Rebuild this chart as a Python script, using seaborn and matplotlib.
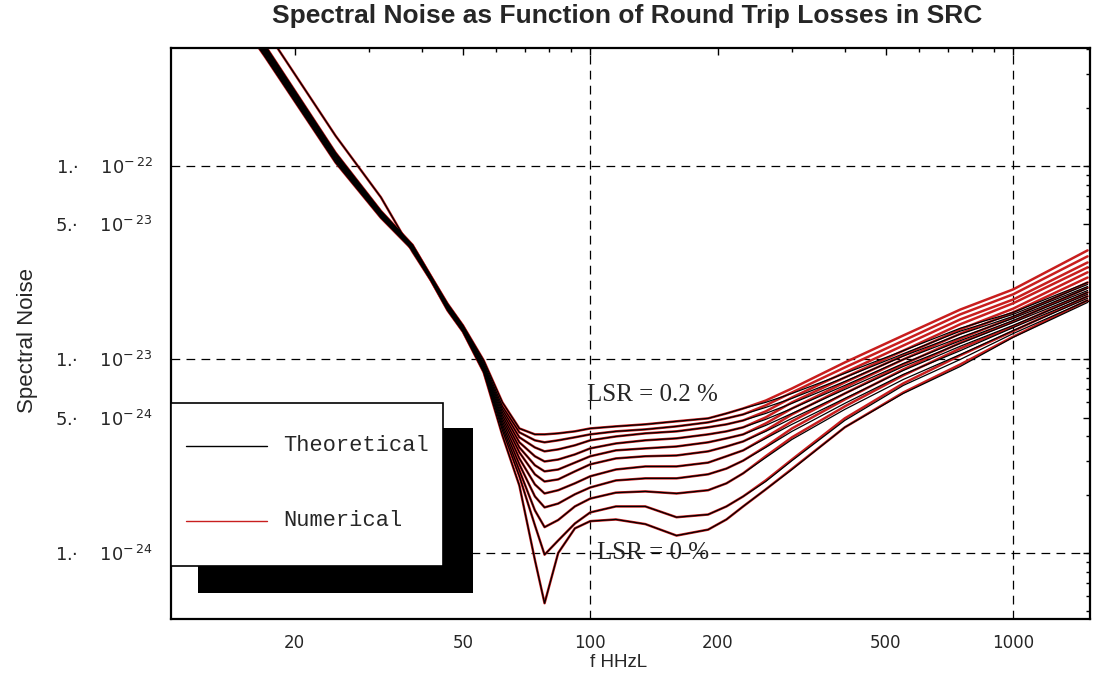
"""
Spectral noise vs frequency for several round-trip losses in the SRC.
"""
import matplotlib
matplotlib.use("Agg")
import matplotlib.pyplot as plt
import seaborn as sns
import pandas as pd
import numpy as np
from matplotlib.patches import Rectangle
from matplotlib.lines import Line2D
from matplotlib.ticker import LogLocator, NullFormatter

# LSR values (percent), one curve per value, bottom (0 %) to top (0.2 %)
lsr_percent = [0.00, 0.02, 0.04, 0.06, 0.08, 0.10, 0.12, 0.14, 0.16, 0.18, 0.20]

freq_hz = [10, 17, 25, 32, 38, 42, 46, 50, 56, 62, 68, 74, 78, 84, 92, 100, 115, 135,
           160, 190, 210, 230, 260, 300, 400, 550, 750, 1000, 1500]

# theoretical spectral noise, one row per LSR value (same order as lsr_percent)
theory_noise = [
    [2.48e-21, 5.11e-22, 1.43e-22, 6.88e-23, 3.60e-23, 2.56e-23, 1.79e-23, 1.39e-23, 8.57e-24, 4.05e-24,
     2.23e-24, 9.2e-25, 5.5e-25, 1.00e-24, 1.34e-24, 1.46e-24, 1.49e-24, 1.41e-24, 1.23e-24, 1.32e-24,
     1.49e-24, 1.74e-24, 2.13e-24, 2.70e-24, 4.46e-24, 6.67e-24, 9.20e-24, 1.30e-23, 1.97e-23],
    [1.93e-21, 3.68e-22, 1.04e-22, 5.39e-23, 3.68e-23, 2.57e-23, 1.81e-23, 1.40e-23, 8.67e-24, 4.30e-24,
     2.49e-24, 1.39e-24, 9.8e-25, 1.16e-24, 1.42e-24, 1.62e-24, 1.74e-24, 1.74e-24, 1.53e-24, 1.58e-24,
     1.74e-24, 1.96e-24, 2.34e-24, 3.00e-24, 4.84e-24, 7.34e-24, 1.00e-23, 1.36e-23, 2.02e-23],
    [1.97e-21, 3.74e-22, 1.06e-22, 5.45e-23, 3.73e-23, 2.58e-23, 1.82e-23, 1.41e-23, 8.77e-24, 4.46e-24,
     2.67e-24, 1.66e-24, 1.36e-24, 1.48e-24, 1.74e-24, 1.91e-24, 2.05e-24, 2.08e-24, 2.03e-24, 2.11e-24,
     2.29e-24, 2.58e-24, 3.11e-24, 3.86e-24, 5.52e-24, 7.88e-24, 1.06e-23, 1.41e-23, 2.07e-23],
    [2.00e-21, 3.80e-22, 1.07e-22, 5.50e-23, 3.75e-23, 2.60e-23, 1.83e-23, 1.42e-23, 8.88e-24, 4.62e-24,
     2.87e-24, 1.96e-24, 1.72e-24, 1.80e-24, 2.01e-24, 2.18e-24, 2.37e-24, 2.43e-24, 2.43e-24, 2.55e-24,
     2.73e-24, 3.00e-24, 3.51e-24, 4.25e-24, 5.93e-24, 8.37e-24, 1.11e-23, 1.46e-23, 2.12e-23],
    [2.04e-21, 3.86e-22, 1.08e-22, 5.55e-23, 3.77e-23, 2.61e-23, 1.85e-23, 1.43e-23, 8.98e-24, 4.79e-24,
     3.08e-24, 2.26e-24, 2.03e-24, 2.11e-24, 2.29e-24, 2.49e-24, 2.70e-24, 2.80e-24, 2.80e-24, 2.93e-24,
     3.16e-24, 3.39e-24, 3.91e-24, 4.62e-24, 6.29e-24, 8.77e-24, 1.17e-23, 1.50e-23, 2.17e-23],
    [2.07e-21, 3.92e-22, 1.10e-22, 5.60e-23, 3.79e-23, 2.63e-23, 1.86e-23, 1.44e-23, 9.09e-24, 4.96e-24,
     3.31e-24, 2.55e-24, 2.34e-24, 2.40e-24, 2.64e-24, 2.87e-24, 3.08e-24, 3.16e-24, 3.19e-24, 3.35e-24,
     3.55e-24, 3.77e-24, 4.25e-24, 4.96e-24, 6.67e-24, 9.20e-24, 1.21e-23, 1.55e-23, 2.22e-23],
    [2.11e-21, 3.98e-22, 1.11e-22, 5.65e-23, 3.82e-23, 2.64e-23, 1.87e-23, 1.45e-23, 9.20e-24, 5.14e-24,
     3.51e-24, 2.84e-24, 2.64e-24, 2.70e-24, 2.93e-24, 3.16e-24, 3.39e-24, 3.47e-24, 3.55e-24, 3.73e-24,
     3.91e-24, 4.10e-24, 4.56e-24, 5.26e-24, 7.00e-24, 9.53e-24, 1.25e-23, 1.59e-23, 2.27e-23],
    [2.14e-21, 4.04e-22, 1.12e-22, 5.70e-23, 3.84e-23, 2.66e-23, 1.89e-23, 1.46e-23, 9.31e-24, 5.33e-24,
     3.73e-24, 3.16e-24, 2.97e-24, 3.04e-24, 3.23e-24, 3.47e-24, 3.68e-24, 3.82e-24, 3.91e-24, 4.10e-24,
     4.25e-24, 4.46e-24, 4.90e-24, 5.58e-24, 7.34e-24, 1.00e-23, 1.30e-23, 1.63e-23, 2.33e-23],
    [2.18e-21, 4.10e-22, 1.14e-22, 5.75e-23, 3.86e-23, 2.67e-23, 1.90e-23, 1.48e-23, 9.42e-24, 5.52e-24,
     3.96e-24, 3.51e-24, 3.35e-24, 3.43e-24, 3.60e-24, 3.82e-24, 4.00e-24, 4.15e-24, 4.25e-24, 4.46e-24,
     4.62e-24, 4.84e-24, 5.26e-24, 5.93e-24, 7.70e-24, 1.04e-23, 1.35e-23, 1.67e-23, 2.38e-23],
    [2.21e-21, 4.16e-22, 1.15e-22, 5.80e-23, 3.89e-23, 2.69e-23, 1.92e-23, 1.49e-23, 9.65e-24, 5.72e-24,
     4.20e-24, 3.82e-24, 3.73e-24, 3.82e-24, 3.96e-24, 4.10e-24, 4.25e-24, 4.35e-24, 4.51e-24, 4.73e-24,
     4.96e-24, 5.20e-24, 5.65e-24, 6.29e-24, 8.07e-24, 1.07e-23, 1.40e-23, 1.71e-23, 2.44e-23],
    [2.25e-21, 4.22e-22, 1.17e-22, 5.85e-23, 3.91e-23, 2.70e-23, 1.94e-23, 1.50e-23, 9.88e-24, 6.00e-24,
     4.40e-24, 4.10e-24, 4.10e-24, 4.15e-24, 4.25e-24, 4.40e-24, 4.51e-24, 4.62e-24, 4.79e-24, 4.96e-24,
     5.26e-24, 5.58e-24, 6.00e-24, 6.67e-24, 8.47e-24, 1.11e-23, 1.45e-23, 1.75e-23, 2.50e-23],
]

# numerical results follow the theory up to 230 Hz, then split off
numeric_tail_hz = [260, 300, 400, 550, 750, 1000, 1500]
numeric_tail_noise = [
    [2.13e-24, 2.72e-24, 4.46e-24, 6.75e-24, 9.42e-24, 1.31e-23, 2.02e-23],
    [2.37e-24, 3.04e-24, 4.96e-24, 7.52e-24, 1.05e-23, 1.40e-23, 2.12e-23],
    [3.16e-24, 3.96e-24, 5.72e-24, 8.27e-24, 1.14e-23, 1.48e-23, 2.22e-23],
    [3.55e-24, 4.40e-24, 6.21e-24, 8.88e-24, 1.22e-23, 1.57e-23, 2.35e-23],
    [3.96e-24, 4.79e-24, 6.67e-24, 9.42e-24, 1.28e-23, 1.65e-23, 2.50e-23],
    [4.30e-24, 5.20e-24, 7.17e-24, 1.00e-23, 1.36e-23, 1.75e-23, 2.65e-23],
    [4.67e-24, 5.58e-24, 7.61e-24, 1.05e-23, 1.43e-23, 1.83e-23, 2.82e-23],
    [5.02e-24, 6.00e-24, 8.07e-24, 1.11e-23, 1.52e-23, 1.95e-23, 2.99e-23],
    [5.39e-24, 6.36e-24, 8.57e-24, 1.18e-23, 1.61e-23, 2.04e-23, 3.17e-23],
    [5.79e-24, 6.75e-24, 9.09e-24, 1.25e-23, 1.71e-23, 2.17e-23, 3.41e-23],
    [6.13e-24, 7.08e-24, 9.65e-24, 1.33e-23, 1.81e-23, 2.30e-23, 3.66e-23],
]

x_tick_values = [20, 50, 100, 200, 500, 1000]
y_tick_values = [1e-24, 5e-24, 1e-23, 5e-23, 1e-22]
y_tick_labels = ["1.\u00b7    10$^{-\\,24}$", "5.\u00b7    10$^{-\\,24}$", "1.\u00b7    10$^{-\\,23}$",
                 "5.\u00b7    10$^{-\\,23}$", "1.\u00b7    10$^{-\\,22}$"]
grid_x = [100, 1000]
grid_y = [1e-24, 1e-23, 1e-22]

RED = "#c81e1e"

# long-form table
rows = []
n_shared = freq_hz.index(230) + 1
numeric_freq = freq_hz[:n_shared] + numeric_tail_hz
for lsr, th, tail in zip(lsr_percent, theory_noise, numeric_tail_noise):
    for f, v in zip(freq_hz, th):
        rows.append(("Theoretical", lsr, f, v))
    for f, v in zip(numeric_freq, th[:n_shared] + tail):
        rows.append(("Numerical", lsr, f, v))
df = pd.DataFrame(rows, columns=["kind", "lsr", "freq", "noise"])

sns.set_style("white")
plt.rcParams['font.family'] = ['DejaVu Sans']

fig = plt.figure(figsize=(10.98, 6.79), dpi=100)
ax = fig.add_axes([0.1557, 0.0884, 0.837, 0.841])
ax.set_xscale("log")
ax.set_yscale("log")

for v in grid_x:
    ax.axvline(v, color="black", lw=0.9, ls=(0, (7, 5)), zorder=1)
for v in grid_y:
    ax.axhline(v, color="black", lw=0.9, ls=(0, (7, 5)), zorder=1)

sns.lineplot(data=df[df["kind"] == "Numerical"], x="freq", y="noise", units="lsr",
             estimator=None, color=RED, lw=1.8, ax=ax, legend=False, zorder=2)
sns.lineplot(data=df[df["kind"] == "Theoretical"], x="freq", y="noise", units="lsr",
             estimator=None, color="black", lw=0.9, ax=ax, legend=False, zorder=3)

ax.set_xlim(10.2, 1520)
ax.set_ylim(4.56e-25, 4.07e-22)

ax.set_xticks(x_tick_values)
ax.set_xticklabels([str(v) for v in x_tick_values])
ax.xaxis.set_minor_locator(LogLocator(base=10, subs=np.arange(2, 10)))
ax.xaxis.set_minor_formatter(NullFormatter())
ax.set_yticks(y_tick_values)
ax.set_yticklabels(y_tick_labels)
ax.yaxis.set_minor_locator(LogLocator(base=10, subs=np.arange(2, 10)))
ax.yaxis.set_minor_formatter(NullFormatter())
ax.tick_params(which="both", direction="in", top=True, right=True, color="black", width=1)
ax.tick_params(which="major", length=5)
ax.tick_params(which="minor", length=3)
ax.tick_params(axis="x", labelsize=12, pad=11)
ax.tick_params(axis="y", labelsize=13, pad=13)
ax.set_xlabel("")
ax.set_ylabel("")
for s in ax.spines.values():
    s.set_visible(True)
    s.set_color("black")
    s.set_linewidth(1.6)

ax.text(98.4, 6.52e-24, "LSR = 0.2 %", family="Liberation Serif", fontsize=18,
        va="center", ha="left", zorder=4)
ax.text(104, 1.0e-24, "LSR = 0 %", family="Liberation Serif", fontsize=18,
        va="center", ha="left", zorder=4)

# Mathematica-style legend with a drop shadow
ax.add_patch(Rectangle((0.0294, 0.0455), 0.2992, 0.289, transform=ax.transAxes,
                       facecolor="black", edgecolor="none", zorder=5))
ax.add_patch(Rectangle((0.0, 0.0928), 0.296, 0.2852, transform=ax.transAxes,
                       facecolor="white", edgecolor="black", lw=1.2, zorder=6))
ax.add_line(Line2D([0.0163, 0.1045], [0.303, 0.303], transform=ax.transAxes,
                   color="black", lw=1.0, zorder=7))
ax.add_line(Line2D([0.0163, 0.1045], [0.1716, 0.1716], transform=ax.transAxes,
                   color=RED, lw=1.0, zorder=7))
ax.text(0.122, 0.303, "Theoretical", transform=ax.transAxes, family="Liberation Mono",
        fontsize=15.8, va="center", ha="left", zorder=7)
ax.text(0.122, 0.1716, "Numerical", transform=ax.transAxes, family="Liberation Mono",
        fontsize=15.8, va="center", ha="left", zorder=7)

fig.text(0.571, 0.976, "Spectral Noise as Function of Round Trip Losses in SRC",
         ha="center", va="center", fontsize=19, weight="bold", family="Liberation Sans")
fig.text(0.025, 0.499, "Spectral Noise", rotation=90, ha="center", va="center",
         fontsize=16, family="Liberation Sans")
fig.text(0.5637, 0.025, "f HHzL", ha="center", va="center", fontsize=13.5,
         family="Liberation Sans")

fig.savefig("out.png", dpi=100)
